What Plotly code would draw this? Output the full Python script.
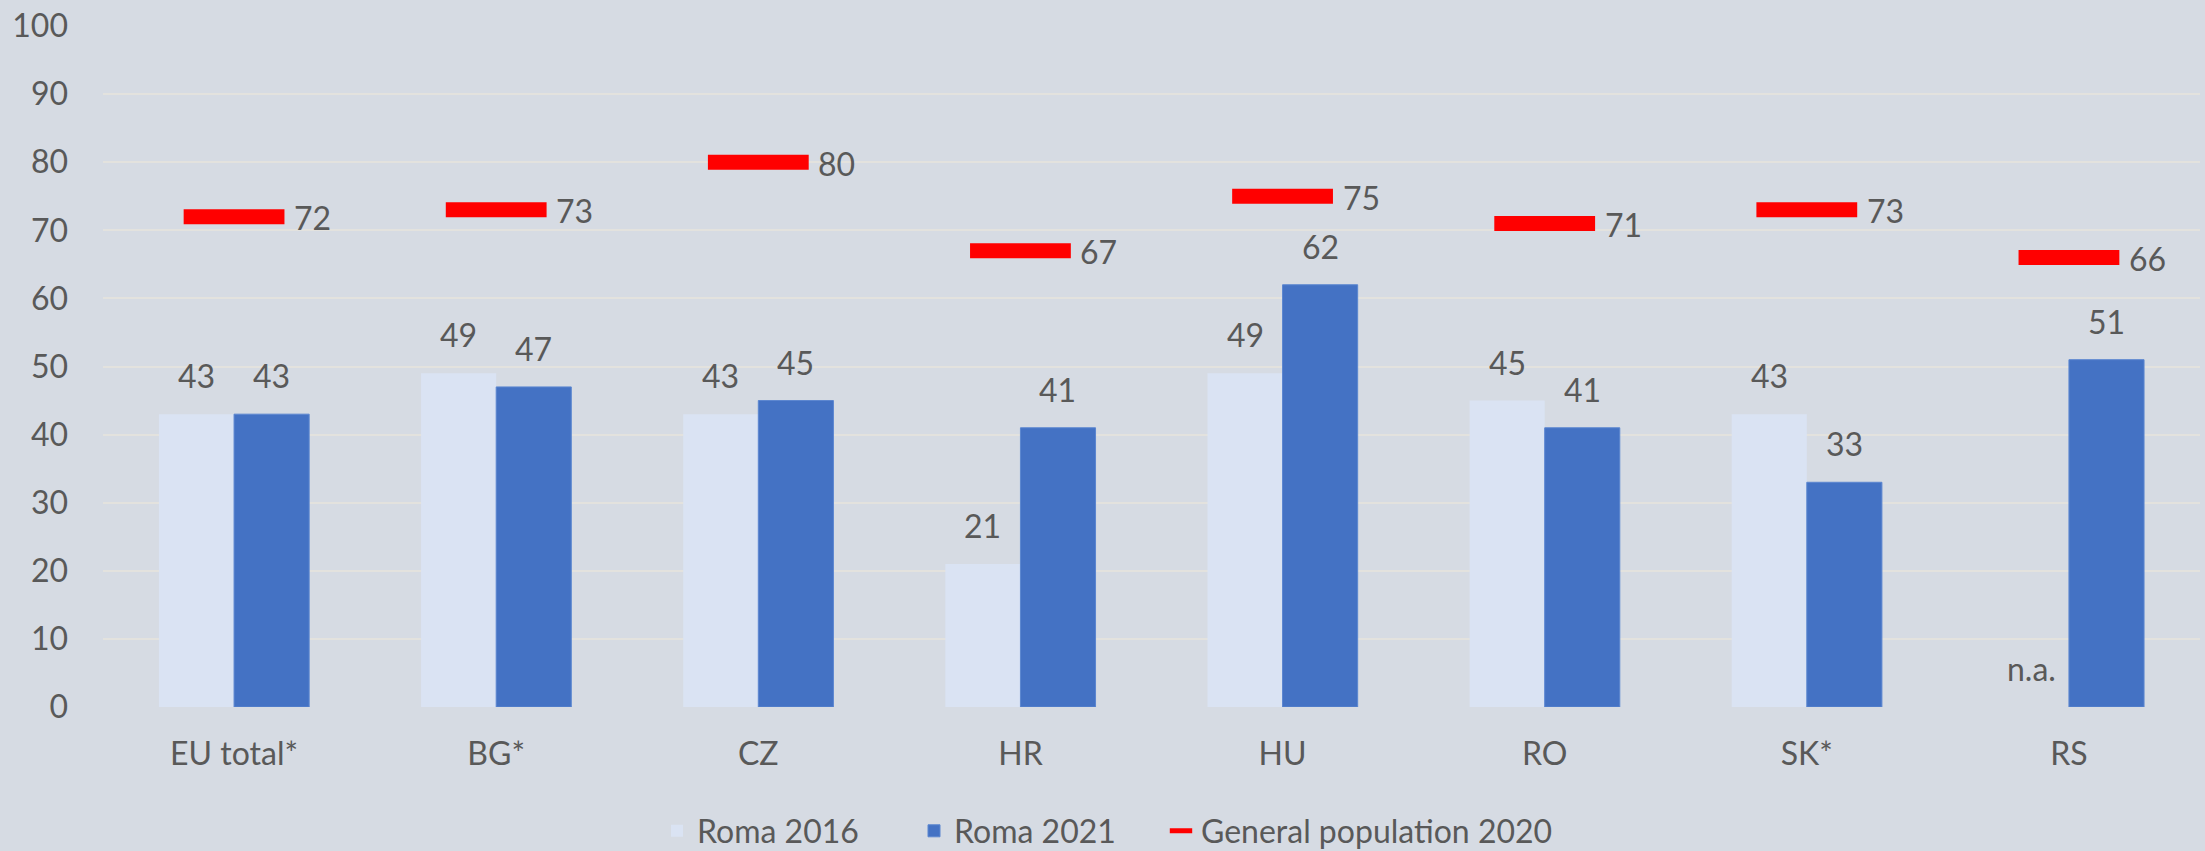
import plotly.graph_objects as go

categories = ["EU total*", "BG*", "CZ", "HR", "HU", "RO", "SK*", "RS"]
roma_2016 = [43, 49, 43, 21, 49, 45, 43, None]
roma_2021 = [43, 47, 45, 41, 62, 41, 33, 51]
general_2020 = [72, 73, 80, 67, 75, 71, 73, 66]
tick_values_y = [0, 10, 20, 30, 40, 50, 60, 70, 80, 90, 100]

BG = "#D6DBE3"
GRID = "#E3E2DE"
TXT = "#595959"
FONT = "Lato"
FS = 32
LIGHT = "#DAE3F3"
DARK = "#4472C4"
RED = "#FF0000"

xs = list(range(len(categories)))
BARGAP = 0.427
half = (1 - BARGAP) / 4  # center offset of each bar in data units

fig = go.Figure()
fig.add_trace(go.Bar(x=xs, y=[v if v is not None else 0 for v in roma_2016],
                     name="Roma 2016", legend="legend",
                     marker=dict(color=LIGHT, line=dict(width=0))))
fig.add_trace(go.Bar(x=xs, y=roma_2021, name="Roma 2021", legend="legend2",
                     marker=dict(color=DARK, line=dict(width=1, color="#5B86D0"))))
fig.add_trace(go.Scatter(x=xs, y=general_2020, mode="markers", name="General population 2020",
                         legend="legend3",
                         marker=dict(symbol="line-ew", size=72, color=RED,
                                     line=dict(width=15, color=RED))))

annotations = []
for i, (a, b, g) in enumerate(zip(roma_2016, roma_2021, general_2020)):
    annotations.append(dict(x=i - half, y=a if a is not None else 0,
                            text=str(a) if a is not None else "n.a.", showarrow=False,
                            yanchor="bottom", yshift=17,
                            font=dict(family=FONT, size=FS, color=TXT)))
    annotations.append(dict(x=i + half, y=b, text=str(b), showarrow=False,
                            yanchor="bottom", yshift=17,
                            font=dict(family=FONT, size=FS, color=TXT)))
    annotations.append(dict(x=i, y=g, text=str(g), showarrow=False,
                            xanchor="left", yanchor="middle", xshift=58, yshift=-1,
                            font=dict(family=FONT, size=FS, color=TXT)))

W, H = 2205, 851


def leg(xpx):
    return dict(orientation="h", xref="container", yref="container",
                x=xpx / W, xanchor="left", y=1 - 831 / H, yanchor="middle",
                font=dict(family=FONT, size=FS, color=TXT), bgcolor="rgba(0,0,0,0)",
                itemwidth=30)


fig.update_layout(
    width=W, height=H,
    paper_bgcolor=BG, plot_bgcolor=BG,
    margin=dict(l=103, r=5, t=23, b=144),
    barmode="group", bargap=BARGAP, bargroupgap=0,
    font=dict(family=FONT, size=FS, color=TXT),
    showlegend=True,
    legend=leg(657), legend2=leg(914), legend3=leg(1161),
    annotations=annotations,
)
fig.update_xaxes(range=[-0.5, len(categories) - 0.5], tickmode="array", tickvals=xs,
                 ticktext=categories, showgrid=False, zeroline=False, showline=False,
                 ticks="", ticklabelstandoff=25,
                 tickfont=dict(family=FONT, size=FS, color=TXT))
fig.update_yaxes(range=[0, 100], tickmode="array", tickvals=tick_values_y,
                 showgrid=True, gridcolor=GRID, gridwidth=2, zeroline=False, showline=False,
                 ticks="", ticklabelstandoff=34,
                 tickfont=dict(family=FONT, size=FS, color=TXT))

fig.write_html("out.html", config={"displayModeBar": False},
               post_script="document.body.style.margin='0';document.body.style.overflow='hidden';")
